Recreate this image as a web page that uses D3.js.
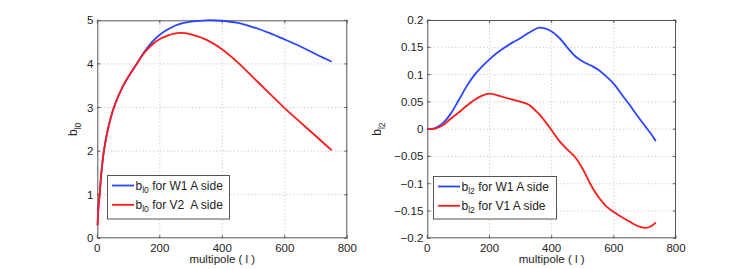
<!DOCTYPE html>
<html>
<head>
<meta charset="utf-8">
<script src="https://cdn.jsdelivr.net/npm/d3@7"></script>
<style>
  html, body { margin: 0; padding: 0; background: #fff; }
  svg { display: block; font-family: "Liberation Sans", Arial, Helvetica, sans-serif; }
</style>
</head>
<body>
<svg id="chart" width="747" height="269"></svg>
<script>
// ---------- data ----------
// Left panel: b_l0
const ell0   = [1, 3, 7.5, 13, 21, 34, 53, 83, 126, 150, 175, 200, 225, 250, 265, 300, 350, 400, 450, 500, 550, 600, 650, 700, 750];
const b0W1   = [0.3, 0.65, 1.0, 1.5, 2.0, 2.5, 3.0, 3.5, 4.0, 4.27, 4.50, 4.67, 4.79, 4.88, 4.92, 4.97, 5.0, 4.99, 4.94, 4.84, 4.71, 4.56, 4.40, 4.22, 4.05];
const b0V2   = [0.3, 0.65, 1.0, 1.5, 2.0, 2.5, 3.0, 3.5, 4.0, 4.25, 4.44, 4.57, 4.65, 4.70, 4.71, 4.68, 4.55, 4.33, 4.03, 3.68, 3.33, 2.98, 2.66, 2.34, 2.02];
const xTicks0 = [0, 200, 400, 600, 800];
const yTicks0 = [0, 1, 2, 3, 4, 5];
const yTickLabels0 = ["0", "1", "2", "3", "4", "5"];

// Right panel: b_l2
const ell2   = [0, 25, 50, 75, 100, 125, 150, 175, 200, 225, 250, 275, 300, 325, 350, 362, 375, 400, 425, 450, 475, 500, 525, 550, 575, 600, 625, 650, 675, 700, 720, 735];
const b2W1   = [0, 0.002, 0.011, 0.028, 0.052, 0.077, 0.098, 0.114, 0.128, 0.140, 0.150, 0.159, 0.167, 0.176, 0.184, 0.186, 0.185, 0.179, 0.167, 0.150, 0.134, 0.124, 0.117, 0.109, 0.097, 0.083, 0.064, 0.045, 0.025, 0.006, -0.009, -0.022];
const b2V1   = [0, 0.001, 0.007, 0.019, 0.030, 0.042, 0.053, 0.061, 0.065, 0.062, 0.058, 0.054, 0.050, 0.045, 0.033, 0.026, 0.017, -0.002, -0.022, -0.037, -0.051, -0.073, -0.101, -0.124, -0.141, -0.152, -0.161, -0.169, -0.177, -0.181, -0.178, -0.171];
const xTicks2 = [0, 200, 400, 600, 800];
const yTicks2 = [-0.2, -0.15, -0.1, -0.05, 0, 0.05, 0.1, 0.15, 0.2];
const yTickLabels2 = ["-0.2", "-0.15", "-0.1", "-0.05", "0", "0.05", "0.1", "0.15", "0.2"];

const xLabel = "multipole ( l )";
const legend0 = [{base: "b", sub: "l0", rest: " for W1 A side", color: "#2b45ff"},
                 {base: "b", sub: "l0", rest: " for V2  A side", color: "#ff1a1a"}];
const legend2 = [{base: "b", sub: "l2", rest: " for W1 A side", color: "#2b45ff"},
                 {base: "b", sub: "l2", rest: " for V1 A side", color: "#ff1a1a"}];

// ---------- drawing ----------
const svg = d3.select("#chart");

function panel(cfg) {
  const x = d3.scaleLinear().domain([0, 800]).range(cfg.xr);
  const y = d3.scaleLinear().domain(cfg.yd).range(cfg.yr);
  const g = svg.append("g");
  const [x0, x1] = cfg.xr, [yB, yT] = cfg.yr;

  // grid
  g.selectAll("line.gx").data(cfg.xt.filter(v => v > 0 && v < 800)).enter().append("line")
    .attr("x1", d => x(d)).attr("x2", d => x(d)).attr("y1", yB).attr("y2", yT)
    .attr("stroke", "#bdbdbd").attr("stroke-width", 1).attr("stroke-dasharray", "1,2.5");
  g.selectAll("line.gy").data(cfg.yt.filter(v => v > cfg.yd[0] && v < cfg.yd[1])).enter().append("line")
    .attr("x1", x0).attr("x2", x1).attr("y1", d => y(d)).attr("y2", d => y(d))
    .attr("stroke", "#bdbdbd").attr("stroke-width", 1).attr("stroke-dasharray", "1,2.5");

  // ticks on all sides (inward)
  const tl = 3;
  cfg.xt.forEach(v => {
    g.append("line").attr("x1", x(v)).attr("x2", x(v)).attr("y1", yB).attr("y2", yB - tl).attr("stroke", "#555");
    g.append("line").attr("x1", x(v)).attr("x2", x(v)).attr("y1", yT).attr("y2", yT + tl).attr("stroke", "#555");
  });
  cfg.yt.forEach(v => {
    g.append("line").attr("x1", x0).attr("x2", x0 + tl).attr("y1", y(v)).attr("y2", y(v)).attr("stroke", "#555");
    g.append("line").attr("x1", x1).attr("x2", x1 - tl).attr("y1", y(v)).attr("y2", y(v)).attr("stroke", "#555");
  });

  // tick labels
  g.selectAll("text.xt").data(cfg.xt).enter().append("text")
    .attr("x", d => x(d)).attr("y", yB + 14).attr("text-anchor", "middle")
    .attr("font-size", 11.5).attr("fill", "#222").text(d => d);
  g.selectAll("text.yt").data(cfg.yt).enter().append("text")
    .attr("x", x0 - 4).attr("y", d => y(d) + 4).attr("text-anchor", "end")
    .attr("font-size", 11.5).attr("fill", "#222").text((d, i) => cfg.ytl[i].replace("-", "\u2212"));

  // box
  g.append("rect").attr("x", x0 + 0.5).attr("y", yT + 0.5).attr("width", x1 - x0 - 1).attr("height", yB - yT - 1)
    .attr("fill", "none").attr("stroke", "#555").attr("stroke-width", 1);

  // lines
  const line = d3.line().x(d => x(d[0])).y(d => y(d[1])).curve(d3.curveCatmullRom.alpha(0.5));
  cfg.series.forEach(s => {
    g.append("path").datum(s.l.map((l, i) => [l, s.v[i]]))
      .attr("d", line).attr("fill", "none").attr("stroke", s.color).attr("stroke-width", 1.8)
      .attr("stroke-linejoin", "round");
  });

  // x label
  g.append("text").attr("x", (x0 + x1) / 2).attr("y", yB + 25).attr("text-anchor", "middle")
    .attr("font-size", 11.5).attr("fill", "#222").text(xLabel);

  // y label (rotated)
  const yl = g.append("text").attr("transform", `translate(${cfg.ylx},${(yB + yT) / 2}) rotate(-90)`)
    .attr("text-anchor", "middle").attr("font-size", 12).attr("fill", "#222");
  yl.append("tspan").text("b");
  yl.append("tspan").attr("font-size", 8.5).attr("dy", 3.5).text(cfg.ysub);

  // legend
  const L = cfg.leg;
  g.append("rect").attr("x", L.x + 0.5).attr("y", L.y + 0.5).attr("width", L.w).attr("height", L.h)
    .attr("fill", "#fff").attr("stroke", "#555").attr("stroke-width", 1);
  cfg.legItems.forEach((it, i) => {
    const cy = L.y + 10.5 + i * 19.3;
    g.append("line").attr("x1", L.x + 5).attr("x2", L.x + 27).attr("y1", cy).attr("y2", cy)
      .attr("stroke", it.color).attr("stroke-width", 1.8);
    const t = g.append("text").attr("x", L.x + 28.5).attr("y", cy + 4).attr("font-size", 12)
      .attr("fill", "#222").attr("xml:space", "preserve").style("white-space", "pre");
    t.append("tspan").text(it.base);
    t.append("tspan").attr("font-size", 8.5).attr("dy", 3.5).text(it.sub);
    t.append("tspan").attr("dy", -3.5).text(it.rest);
  });
}

panel({
  xr: [97.3, 347.3], yr: [238.3, 20.3], yd: [0, 5],
  xt: xTicks0, yt: yTicks0, ytl: yTickLabels0,
  series: [{l: ell0, v: b0W1, color: "#2b45ff"}, {l: ell0, v: b0V2, color: "#ff1a1a"}],
  ylx: 77, ysub: "l0",
  leg: {x: 107, y: 175, w: 122, h: 43.5}, legItems: legend0
});

panel({
  xr: [427.3, 676], yr: [238.3, 20], yd: [-0.2, 0.2],
  xt: xTicks2, yt: yTicks2, ytl: yTickLabels2,
  series: [{l: ell2, v: b2W1, color: "#2b45ff"}, {l: ell2, v: b2V1, color: "#ff1a1a"}],
  ylx: 381, ysub: "l2",
  leg: {x: 433, y: 176, w: 123, h: 42.5}, legItems: legend2
});
</script>
</body>
</html>
